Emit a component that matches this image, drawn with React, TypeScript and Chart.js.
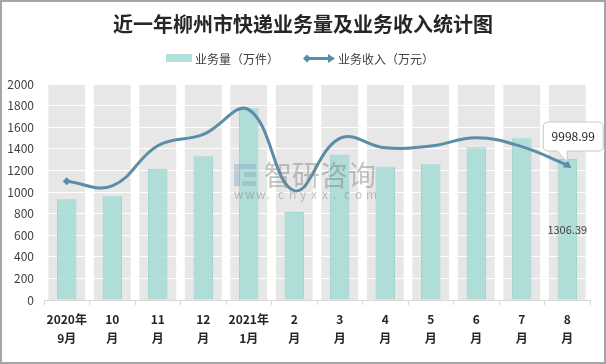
import React, { useEffect, useRef } from "react";
import { Chart, registerables } from "chart.js";

Chart.register(...registerables);

const title = "近一年柳州市快递业务量及业务收入统计图";
const categories = [
  ["2020年", "9月"], ["10", "月"], ["11", "月"], ["12", "月"],
  ["2021年", "1月"], ["2", "月"], ["3", "月"], ["4", "月"],
  ["5", "月"], ["6", "月"], ["7", "月"], ["8", "月"],
];
const volumeName = "业务量（万件）";
const revenueName = "业务收入（万元）";
const volume = [932, 960, 1216, 1330, 1775, 815, 1345, 1237, 1256, 1414, 1497, 1306.39];
const revenue = [8790, 8450, 11430, 12270, 14100, 8100, 11980, 11280, 11400, 12020, 11360, 9998.99];
const yMin = 0;
const yMax = 2000;
const yStep = 200;
const y2Max = 16000;
const watermark = "智研咨询";
const watermarkUrl = "www.chyxx.com";

const FONT = "'Noto Sans CJK SC', 'Microsoft YaHei', sans-serif";
const BAR_FILL = "rgba(165, 218, 213, 0.85)";
const BAR_BORDER = "#9fd6cf";
const LINE = "#5a8da6";
const BAND = "#e7e7e7";

export default function App() {
  const ref = useRef<HTMLCanvasElement | null>(null);

  useEffect(() => {
    const canvas = ref.current;
    if (!canvas) return;

    const bandPlugin = {
      id: "bands",
      beforeDraw(chart: any) {
        const { ctx, scales } = chart;
        const x = scales.x;
        const y = scales.y;
        const top = y.getPixelForValue(yMax);
        const bottom = y.getPixelForValue(yMin);
        const w = (x.width / categories.length) * 0.81;
        ctx.save();
        ctx.fillStyle = BAND;
        categories.forEach((_, i) => {
          const cx = x.getPixelForValue(i);
          ctx.fillRect(cx - w / 2, top, w, bottom - top);
        });
        ctx.restore();
      },
    };

    const decorPlugin = {
      id: "decor",
      afterDraw(chart: any) {
        const { ctx } = chart;
        ctx.save();
        // title
        ctx.fillStyle = "#262626";
        ctx.font = `bold 20px ${FONT}`;
        ctx.textAlign = "center";
        ctx.textBaseline = "middle";
        ctx.fillText(title, 303, 24);

        // legend
        ctx.font = `12px ${FONT}`;
        ctx.textAlign = "left";
        ctx.fillStyle = BAR_FILL;
        ctx.fillRect(166, 54, 26, 8);
        ctx.fillStyle = "#404040";
        ctx.fillText(volumeName, 195, 59);
        ctx.strokeStyle = LINE;
        ctx.lineWidth = 3;
        ctx.beginPath();
        ctx.moveTo(307, 58.5);
        ctx.lineTo(331, 58.5);
        ctx.stroke();
        ctx.fillStyle = LINE;
        ctx.beginPath();
        ctx.moveTo(303, 58.5);
        ctx.lineTo(307, 54.5);
        ctx.lineTo(311, 58.5);
        ctx.lineTo(307, 62.5);
        ctx.closePath();
        ctx.fill();
        ctx.beginPath();
        ctx.moveTo(335, 58.5);
        ctx.lineTo(328, 54);
        ctx.lineTo(328, 63);
        ctx.closePath();
        ctx.fill();
        ctx.fillStyle = "#404040";
        ctx.fillText(revenueName, 338, 59);

        // watermark
        ctx.globalAlpha = 0.45;
        ctx.fillStyle = "#7f7f7f";
        ctx.font = `28px ${FONT}`;
        ctx.textAlign = "left";
        ctx.fillText(watermark, 264, 175);
        ctx.font = `12px ${FONT}`;
        const chars = watermarkUrl.split("");
        chars.forEach((c, i) => {
          ctx.fillText(c, 234 + i * 11, 194);
        });
        ctx.fillStyle = "#8aa6c6";
        ctx.fillRect(234, 164, 6, 22);
        ctx.fillRect(240, 164, 16, 5);
        ctx.fillRect(244, 172, 12, 5);
        ctx.fillRect(242, 181, 14, 5);
        ctx.globalAlpha = 1;

        // data labels
        const barMeta = chart.getDatasetMeta(0);
        const lineMeta = chart.getDatasetMeta(1);
        const last = volume.length - 1;
        const bar = barMeta.data[last];
        ctx.fillStyle = "#404040";
        ctx.font = `11px ${FONT}`;
        ctx.textAlign = "center";
        ctx.fillText(String(volume[last]), bar.x, bar.y + 71);

        const pt = lineMeta.data[last];
        const bx = pt.x - 24;
        const by = pt.y - 43;
        const bw = 60;
        const bh = 29;
        const r = 5;
        ctx.beginPath();
        ctx.moveTo(bx + r, by);
        ctx.lineTo(bx + bw - r, by);
        ctx.quadraticCurveTo(bx + bw, by, bx + bw, by + r);
        ctx.lineTo(bx + bw, by + bh - r);
        ctx.quadraticCurveTo(bx + bw, by + bh, bx + bw - r, by + bh);
        ctx.lineTo(pt.x, by + bh);
        ctx.lineTo(pt.x, pt.y - 3);
        ctx.lineTo(pt.x - 10, by + bh);
        ctx.lineTo(bx + r, by + bh);
        ctx.quadraticCurveTo(bx, by + bh, bx, by + bh - r);
        ctx.lineTo(bx, by + r);
        ctx.quadraticCurveTo(bx, by, bx + r, by);
        ctx.closePath();
        ctx.fillStyle = "#ffffff";
        ctx.fill();
        ctx.strokeStyle = "#c8c8c8";
        ctx.lineWidth = 1;
        ctx.stroke();
        ctx.fillStyle = "#262626";
        ctx.font = `12px ${FONT}`;
        ctx.fillText(String(revenue[last]), bx + bw / 2, by + bh / 2);
        ctx.restore();
      },
    };

    const n = revenue.length;
    const chart = new Chart(canvas, {
      type: "bar",
      data: {
        labels: categories,
        datasets: [
          {
            type: "bar",
            label: volumeName,
            data: volume,
            backgroundColor: BAR_FILL,
            borderColor: BAR_BORDER,
            borderWidth: 1,
            categoryPercentage: 1,
            barPercentage: 0.43,
            yAxisID: "y",
            order: 2,
          },
          {
            type: "line",
            label: revenueName,
            data: revenue,
            borderColor: LINE,
            backgroundColor: LINE,
            borderWidth: 3,
            tension: 0.4,
            pointStyle: revenue.map((_, i) => (i === 0 ? "rectRot" : i === n - 1 ? "triangle" : "circle")),
            pointRadius: revenue.map((_, i) => (i === 0 ? 4 : i === n - 1 ? 5 : 0)),
            pointRotation: revenue.map((_, i) => (i === n - 1 ? 125 : 0)),
            pointBorderWidth: 0,
            yAxisID: "y2",
            order: 1,
          },
        ],
      },
      options: {
        responsive: false,
        animation: false,
        layout: { padding: { top: 84, left: 0, right: 16, bottom: 4 } },
        plugins: {
          legend: { display: false },
          title: { display: false },
          tooltip: { enabled: false },
        },
        scales: {
          x: {
            offset: true,
            grid: {
              offset: true,
              drawOnChartArea: false,
              drawTicks: true,
              tickLength: 5,
              color: "#d9d9d9",
            },
            border: { display: true, color: "#d9d9d9" },
            ticks: {
              color: "#262626",
              font: { family: FONT, size: 12, weight: "bold", lineHeight: 1.6 },
              padding: 5,
              maxRotation: 0,
              autoSkip: false,
            },
            afterFit(scale: any) {
              scale.height = 60;
            },
          },
          y: {
            min: yMin,
            max: yMax,
            ticks: {
              stepSize: yStep,
              color: "#404040",
              font: { family: FONT, size: 12 },
              padding: 10,
              callback: (v: any) => String(v),
            },
            grid: { color: "#ffffff", lineWidth: 1, drawTicks: false },
            border: { display: false },
            afterFit(scale: any) {
              scale.width = 44;
            },
          },
          y2: {
            display: false,
            min: 0,
            max: y2Max,
            position: "right",
          },
        },
      },
      plugins: [bandPlugin, decorPlugin],
    });

    return () => chart.destroy();
  }, []);

  return (
    <div style={{ position: "fixed", left: 0, top: 0, width: 606, height: 364, background: "#ffffff" }}>
      <canvas ref={ref} width={606} height={364} style={{ position: "absolute", left: 0, top: 0 }} />
      <div
        style={{
          position: "absolute",
          left: 0,
          top: 0,
          width: 606,
          height: 364,
          boxSizing: "border-box",
          border: "2px solid #a6a6a6",
          pointerEvents: "none",
        }}
      />
    </div>
  );
}
